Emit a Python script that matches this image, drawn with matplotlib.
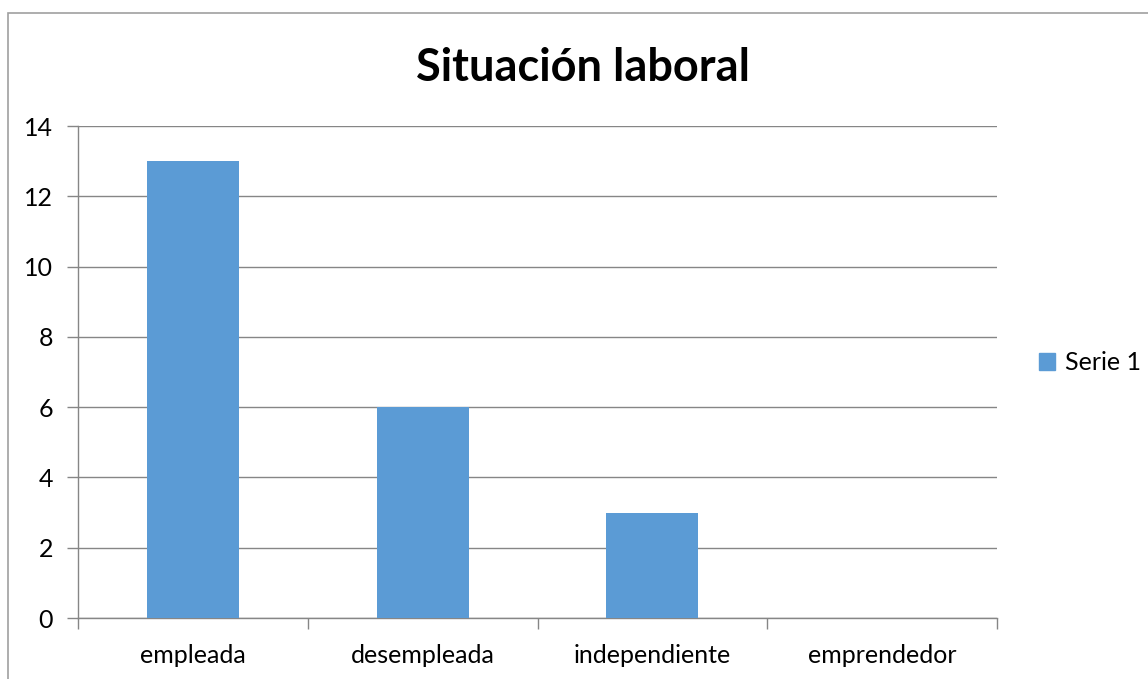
import matplotlib.pyplot as plt
from matplotlib.patches import Rectangle, Patch

# data
categories = ['empleada', 'desempleada', 'independiente', 'emprendedor']
serie_1 = [13, 6, 3, 0]

plt.rcParams['font.family'] = ['Lato', 'DejaVu Sans']

fig = plt.figure(figsize=(11.48, 6.79), dpi=100)
ax = fig.add_axes([78 / 1148, 61 / 679, 919 / 1148, 492 / 679])

grey = '#868686'
bar_color = '#5B9BD5'

x = range(len(categories))
ax.bar(x, serie_1, width=0.4, color=bar_color, zorder=3)

ax.set_xlim(-0.5, len(categories) - 0.5)
ax.set_ylim(0, 14)
ax.set_yticks(range(0, 15, 2))
ax.set_xticks(list(x))
ax.set_xticklabels(categories, fontsize=18)
ax.set_xticks([i - 0.5 for i in range(len(categories) + 1)], minor=True)
ax.tick_params(axis='x', which='major', length=0, pad=19)
ax.tick_params(axis='x', which='minor', length=8, color=grey, width=1)
ax.tick_params(axis='y', length=8, color=grey, width=1, labelsize=18, pad=10)

ax.grid(axis='y', color=grey, linewidth=1, zorder=0)
for side in ['top', 'right']:
    ax.spines[side].set_visible(False)
for side in ['left', 'bottom']:
    ax.spines[side].set_color(grey)
    ax.spines[side].set_linewidth(1)

fig.text(583 / 1148, 1 - 68 / 679, 'Situación laboral', fontsize=32.5,
         fontweight='bold', ha='center', va='center')

fig.legend(handles=[Patch(color=bar_color, label='Serie 1')],
           loc='center left', bbox_to_anchor=(1039 / 1148, 1 - 363 / 679),
           frameon=False, fontsize=18, handlelength=0.65, handleheight=0.65,
           handletextpad=0.4, borderaxespad=0, borderpad=0)

# chart border (cut off at right and bottom)
fig.patches.append(Rectangle((8 / 1148, -0.05), 1.1, 1 - 13 / 679 + 0.05,
                             transform=fig.transFigure, fill=False,
                             edgecolor='#A0A0A0', linewidth=1.2))

fig.savefig('out.png', dpi=100)
